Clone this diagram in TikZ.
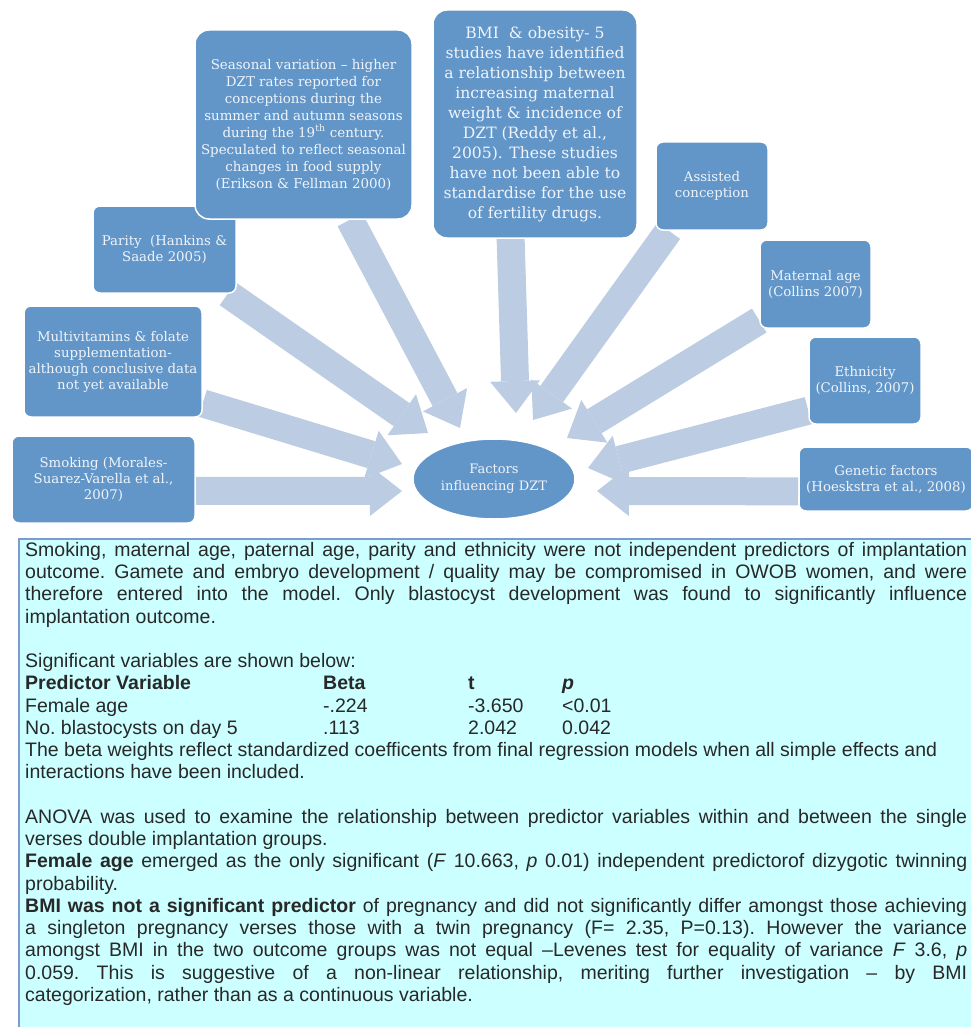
\documentclass[tikz,border=0pt]{standalone}
\usepackage{fontspec}
\setmainfont{DejaVu Serif}
\newfontfamily\bodyfont{Liberation Sans}
\usetikzlibrary{arrows.meta,shapes.geometric}
\pgfdeclarelayer{background}
\pgfsetlayers{background,main}

\definecolor{boxblue}{RGB}{98,150,200}
\definecolor{boxtext}{RGB}{240,244,250}
\definecolor{flowblue}{RGB}{188,204,226}
\definecolor{panelfill}{RGB}{204,255,255}
\definecolor{panelline}{RGB}{125,155,205}
\definecolor{inkgray}{RGB}{40,40,40}

% one justified line, one plain line, and the table columns of the notes panel
\newcommand\justline[1]{\hbox to\hsize{#1}}
\newcommand\plainline[1]{\hbox{#1}}
\newcommand\tcola[1]{\makebox[298pt][l]{#1}}
\newcommand\tcolb[1]{\makebox[145pt][l]{#1}}
\newcommand\tcolc[1]{\makebox[94pt][l]{#1}}

\tikzset{
  factor/.style={draw=white, line width=1.5pt, fill=boxblue, text=boxtext,
    align=center, inner sep=2pt, rounded corners=7pt},
  bigfactor/.style={factor, rounded corners=14pt},
  smalltext/.style={font=\fontsize{13.3}{16}\selectfont},
  flow/.style={draw=flowblue, line width=28pt,
    -{Triangle[width=50pt,length=32pt,line width=0pt]}},
  hub/.style={ellipse, fill=boxblue, draw=white, line width=1.5pt, text=boxtext,
    align=center, inner sep=0pt, font=\fontsize{13}{17}\selectfont},
}

\begin{document}
\begin{tikzpicture}[x=1pt,y=-1pt]
\useasboundingbox (0,0) rectangle (970,1027);

% factor boxes
\node[factor, smalltext, minimum width=143pt, minimum height=87pt] (parity) at (164.5,249.5)
  {Parity~ (Hankins \&\\Saade 2005)};
\node[bigfactor, font=\fontsize{13.4}{17}\selectfont, minimum width=217pt, minimum height=189pt] (season) at (303.5,124.5)
  {Seasonal variation – higher\\DZT rates reported for\\conceptions during the\\summer and autumn seasons\\during the 19\textsuperscript{th} century.\\Speculated to reflect seasonal\\changes in food supply\\(Erikson \& Fellman 2000)};
\node[bigfactor, font=\fontsize{15.6}{20}\selectfont, minimum width=204pt, minimum height=228pt] (bmi) at (535,124)
  {BMI~ \& obesity- 5\\studies have identified\\a relationship between\\increasing maternal\\weight \& incidence of\\DZT (Reddy et al.,\\2005). These studies\\have not been able to\\standardise for the use\\of fertility drugs.};
\node[factor, smalltext, minimum width=112pt, minimum height=88pt] (assist) at (712,186)
  {Assisted\\conception};
\node[factor, smalltext, minimum width=111pt, minimum height=88pt] (maternal) at (815.5,284)
  {Maternal age\\(Collins 2007)};
\node[factor, smalltext, minimum width=112pt, minimum height=87pt] (ethnic) at (865,380.5)
  {Ethnicity\\(Collins, 2007)};
\node[factor, smalltext, minimum width=174pt, minimum height=64pt] (genetic) at (886,479)
  {Genetic factors\\(Hoeskstra et al., 2008)};
\node[factor, smalltext, minimum width=178pt, minimum height=111pt] (multi) at (113,361.5)
  {Multivitamins \& folate\\supplementation-\\although conclusive data\\not yet available};
\node[factor, smalltext, minimum width=183pt, minimum height=87pt] (smoke) at (103.5,479.5)
  {Smoking (Morales-\\Suarez-Varella et al.,\\2007)};

% central ellipse
\node[hub, minimum width=162pt, minimum height=80pt] (dzt) at (494,479)
  {Factors\\influencing DZT};

% arrow tips around the ellipse
\coordinate (tipSmoke)    at (402,491);
\coordinate (tipMulti)    at (402,464);
\coordinate (tipParity)   at (428,433);
\coordinate (tipSeason)   at (460,428);
\coordinate (tipBmi)      at (516,413);
\coordinate (tipAssist)   at (533,420);
\coordinate (tipMaternal) at (567,438);
\coordinate (tipEthnic)   at (588,468);
\coordinate (tipGenetic)  at (597,491);

\begin{pgfonlayer}{background}
  \draw[flow] (smoke.-7)      -- (tipSmoke);
  \draw[flow] (multi.-25)     -- (tipMulti);
  \draw[flow] (parity.-35)    -- (tipParity);
  \draw[flow] (season.-64)    -- (tipSeason);
  \draw[flow] (bmi.-102)      -- (tipBmi);
  \draw[flow] (assist.-134)   -- (tipAssist);
  \draw[flow] (maternal.-147) -- (tipMaternal);
  \draw[flow] (ethnic.-152)   -- (tipEthnic);
  \draw[flow] (genetic.-172)  -- (tipGenetic);
\end{pgfonlayer}

% notes panel
\node[draw=panelline, fill=panelfill, line width=1.5pt, anchor=north west,
  minimum width=956pt, minimum height=500pt, inner sep=0pt] (panel) at (18,538) {};
\node[anchor=north west, inner sep=0pt, text=inkgray, font=\bodyfont] (notes) at (25,542) {\vbox{%
\hsize=942pt \fontsize{19.5}{22.25}\selectfont \baselineskip=22.25pt \frenchspacing
\justline{Smoking, maternal age, paternal age, parity and ethnicity were not independent predictors of implantation}
\justline{outcome. Gamete and embryo development / quality may be compromised in OWOB women, and were}
\justline{therefore entered into the model. Only blastocyst development was found to significantly influence}
\plainline{implantation outcome.}
\plainline{}
\plainline{Significant variables are shown below:}
\plainline{\bfseries\tcola{Predictor Variable}\tcolb{Beta}\tcolc{t}\textit{p}}
\plainline{\tcola{Female age}\tcolb{-.224}\tcolc{-3.650}<0.01}
\plainline{\tcola{No. blastocysts on day 5}\tcolb{.113}\tcolc{2.042}0.042}
\plainline{The beta weights reflect standardized coefficents from final regression models when all simple effects and}
\plainline{interactions have been included.}
\plainline{}
\justline{ANOVA was used to examine the relationship between predictor variables within and between the single}
\plainline{verses double implantation groups.}
\justline{\textbf{Female age} emerged as the only significant (\textit{F} 10.663, \textit{p} 0.01) independent predictorof dizygotic twinning}
\plainline{probability.}
\justline{\textbf{BMI was not a significant predictor} of pregnancy and did not significantly differ amongst those achieving}
\justline{a singleton pregnancy verses those with a twin pregnancy (F= 2.35, P=0.13). However the variance}
\justline{amongst BMI in the two outcome groups was not equal –Levenes test for equality of variance \textit{F} 3.6, \textit{p}}
\justline{0.059. This is suggestive of a non-linear relationship, meriting further investigation – by BMI}
\plainline{categorization, rather than as a continuous variable.}
}};
\end{tikzpicture}
\end{document}
